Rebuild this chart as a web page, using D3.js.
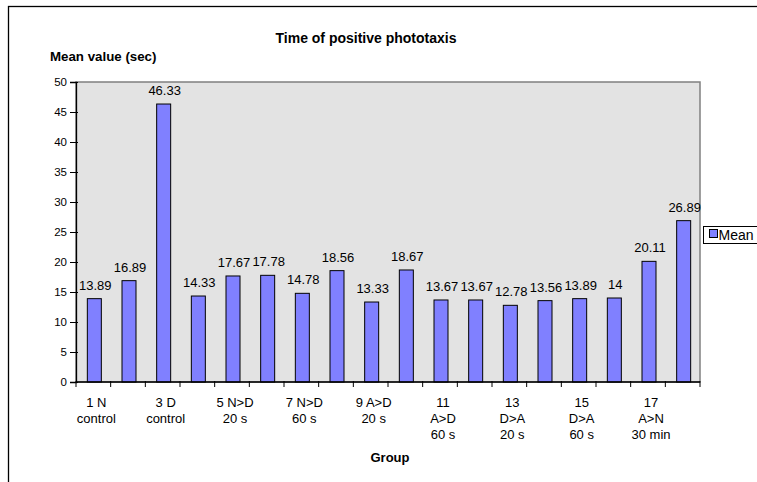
<!DOCTYPE html>
<html><head><meta charset="utf-8">
<script src="https://cdn.jsdelivr.net/npm/d3@7"></script>
<style>body{margin:0;background:#fff}svg{display:block;font-family:Arial,"Liberation Sans",sans-serif}</style>
</head><body>
<script>
const groups = ["1","2","3","4","5","6","7","8","9","10","11","12","13","14","15","16","17","18"];
const tickLabels = {
  "1": ["1 N","control"], "3": ["3 D","control"], "5": ["5 N>D","20 s"], "7": ["7 N>D","60 s"],
  "9": ["9 A>D","20 s"], "11": ["11","A>D","60 s"], "13": ["13","D>A","20 s"],
  "15": ["15","D>A","60 s"], "17": ["17","A>N","30 min"]
};
const meanValues = [13.89,16.89,46.33,14.33,17.67,17.78,14.78,18.56,13.33,18.67,13.67,13.67,12.78,13.56,13.89,14,20.11,26.89];
const valueLabels = ["13.89","16.89","46.33","14.33","17.67","17.78","14.78","18.56","13.33","18.67","13.67","13.67","12.78","13.56","13.89","14","20.11","26.89"];
const yTicks = [0,5,10,15,20,25,30,35,40,45,50];
const seriesName = "Mean";

const W = 757, H = 482;
const svg = d3.select("body").append("svg").attr("width", W).attr("height", H);
const L = 76, R = 700, T = 82, B = 382;

// outer chart border
svg.append("rect").attr("x", 8.5).attr("y", 6.5).attr("width", 900).attr("height", 600)
  .attr("fill", "#fff").attr("stroke", "#000").attr("stroke-width", 1.3);

const x = d3.scaleBand().domain(groups).range([L, R]).padding(0);
const y = d3.scaleLinear().domain([0, 50]).range([B, T]);

// plot area
svg.append("rect").attr("x", L).attr("y", T).attr("width", R - L).attr("height", B - T)
  .attr("fill", "#e3e3e3").attr("stroke", "#808080").attr("stroke-width", 1.5);

// bars
const bw = 14;
svg.append("g").selectAll("rect").data(meanValues).join("rect")
  .attr("x", (d, i) => x(groups[i]) + x.bandwidth() / 2 - bw / 2 + 1)
  .attr("y", d => y(d))
  .attr("width", bw)
  .attr("height", d => y(0) - y(d))
  .attr("fill", "#8080ff").attr("stroke", "#000").attr("stroke-width", 1);

// value labels
svg.append("g").selectAll("text").data(meanValues).join("text")
  .attr("x", (d, i) => x(groups[i]) + x.bandwidth() / 2 + 2)
  .attr("y", d => y(d) - 9)
  .attr("text-anchor", "middle").attr("font-size", 13).attr("fill", "#000")
  .text((d, i) => valueLabels[i]);

// y axis
const yAxis = d3.axisLeft(y).tickValues(yTicks).tickSize(6).tickPadding(3);
const gy = svg.append("g").attr("transform", `translate(${L},0)`).call(yAxis);
gy.select(".domain").attr("stroke", "#000").attr("stroke-width", 1.3);
gy.selectAll(".tick line").attr("stroke", "#000").attr("x2", -6).attr("x1", 2);
gy.selectAll("text").attr("font-size", 11.5).attr("font-family", "Arial, 'Liberation Sans', sans-serif").attr("fill", "#000");

// x axis baseline and ticks at boundaries
svg.append("line").attr("x1", L).attr("x2", R).attr("y1", B).attr("y2", B).attr("stroke", "#000").attr("stroke-width", 1.3);
const bounds = groups.map(g => x(g)).concat([R]);
svg.append("g").selectAll("line").data(bounds).join("line")
  .attr("x1", d => d).attr("x2", d => d).attr("y1", B - 1).attr("y2", B + 5)
  .attr("stroke", "#000").attr("stroke-width", 1);

// x tick labels
const xl = svg.append("g");
groups.forEach(g => {
  const lines = tickLabels[g];
  if (!lines) return;
  const t = xl.append("text").attr("text-anchor", "middle").attr("font-size", 13).attr("fill", "#000");
  lines.forEach((s, k) => {
    t.append("tspan").attr("x", x(g) + x.bandwidth() / 2 + 3).attr("y", 406.5 + k * 16).text(s);
  });
});

// titles
svg.append("text").attr("x", 366).attr("y", 43).attr("text-anchor", "middle")
  .attr("font-size", 14).attr("font-weight", "bold").text("Time of positive phototaxis");
svg.append("text").attr("x", 50).attr("y", 60.5)
  .attr("font-size", 13.3).attr("font-weight", "bold").text("Mean value (sec)");
svg.append("text").attr("x", 390).attr("y", 462).attr("text-anchor", "middle")
  .attr("font-size", 13).attr("font-weight", "bold").text("Group");

// legend
const lg = svg.append("g");
lg.append("rect").attr("x", 703.5).attr("y", 226.5).attr("width", 100).attr("height", 17)
  .attr("fill", "#fff").attr("stroke", "#000").attr("stroke-width", 1);
lg.append("rect").attr("x", 709.5).attr("y", 229.5).attr("width", 8).attr("height", 8)
  .attr("fill", "#8080ff").attr("stroke", "#000").attr("stroke-width", 1);
lg.append("text").attr("x", 718.5).attr("y", 240).attr("font-size", 14).text(seriesName);
</script>
</body></html>
